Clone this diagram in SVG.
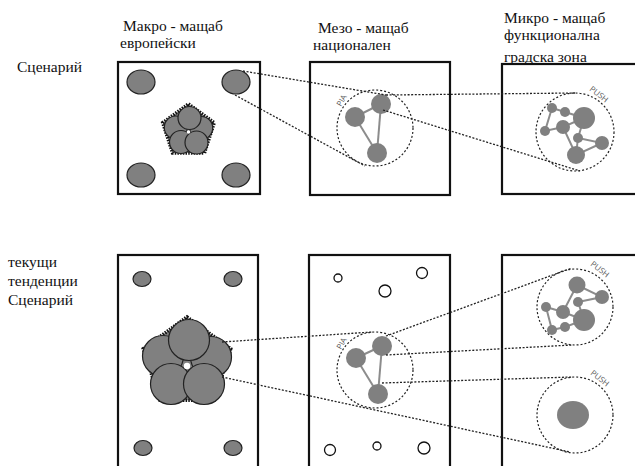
<svg xmlns="http://www.w3.org/2000/svg" width="635" height="466" viewBox="0 0 635 466">
<style>
.box{fill:none;stroke:#111;stroke-width:2.2}
.big{fill:#808080;stroke:#222;stroke-width:1.2}
.pent{fill:#808080;stroke:#111;stroke-width:3.6;stroke-dasharray:1.5 1.2}
.n{fill:#808080}
.e{stroke:#8c8c8c;stroke-width:2;fill:none}
.zone{fill:none;stroke:#222;stroke-width:1.2;stroke-dasharray:2 2}
.lk{fill:none;stroke:#222;stroke-width:1.3;stroke-dasharray:2 1.6}
.open{fill:#fff;stroke:#111;stroke-width:1.3}
</style>
<rect width="635" height="466" fill="#fff"/>

<g id="labels" fill="#111" font-family="Liberation Serif, serif" font-size="15.5">
<text x="123" y="31">Макро - мащаб</text>
<text x="120" y="48">европейски</text>
<text x="318" y="33">Мезо - мащаб</text>
<text x="313" y="50">национален</text>
<text x="504" y="23">Микро - мащаб</text>
<text x="504" y="40">функционална</text>
<text x="504" y="62">градска зона</text>
<text x="17" y="72">Сценарий</text>
<text x="8" y="267">текущи</text>
<text x="8" y="286">тенденции</text>
<text x="8" y="305">Сценарий</text>
</g>

<g id="macro-top">
<rect class="box" x="118" y="62" width="142" height="132"/>
<ellipse class="big" cx="141" cy="82" rx="14" ry="12"/>
<ellipse class="big" cx="236" cy="82" rx="14" ry="12"/>
<ellipse class="big" cx="141" cy="175" rx="14" ry="12"/>
<ellipse class="big" cx="236" cy="175" rx="14" ry="12"/>
<polygon class="pent" points="188.5,104 214.2,122.7 204.4,153 172.6,153 162.8,122.7"/>
<g class="big" stroke-width="1">
<circle cx="175.8" cy="127.5" r="11.5"/>
<circle cx="181" cy="142" r="11.5"/>
<circle cx="201.2" cy="128" r="11.5"/>
<circle cx="189.5" cy="118" r="11.5"/>
<circle cx="196.5" cy="142.5" r="11.5"/>
</g>
<circle cx="188.5" cy="132" r="1.8" fill="#fff"/>
</g>

<g id="meso-top">
<rect class="box" x="310" y="62" width="140" height="133"/>
<circle class="zone" cx="375" cy="128" r="38"/>
<line class="e" x1="355" y1="117" x2="381" y2="104"/>
<line class="e" x1="355" y1="117" x2="377" y2="153"/>
<line class="e" x1="381" y1="104" x2="377" y2="153"/>
<circle class="n" cx="355" cy="117" r="10"/>
<circle class="n" cx="381" cy="104" r="10"/>
<circle class="n" cx="377" cy="153" r="10"/>
<text font-family="Open Sans, sans-serif" font-size="8" fill="#555" transform="translate(341,107) rotate(-60)">PIA</text>
</g>

<g id="micro-top">
<rect class="box" x="502" y="64" width="140" height="130"/>
<circle class="zone" cx="575" cy="132" r="39"/>
<path class="e" d="M552,108 L545,131 L563,127 L584,118 L565,112 L552,108 M563,127 L576,155 L602,143 L578,138 L584,118 M578,138 L576,155"/>
<circle class="n" cx="552" cy="108" r="5"/>
<circle class="n" cx="565" cy="112" r="5"/>
<circle class="n" cx="584" cy="118" r="11"/>
<circle class="n" cx="563" cy="127" r="7"/>
<circle class="n" cx="545" cy="131" r="5"/>
<circle class="n" cx="578" cy="138" r="5"/>
<circle class="n" cx="602" cy="143" r="7"/>
<circle class="n" cx="576" cy="155" r="9"/>
<text font-family="Open Sans, sans-serif" font-size="8" fill="#555" transform="translate(589,90) rotate(38)">PUSH</text>
</g>

<g id="macro-bottom">
<rect class="box" x="118" y="255" width="140" height="230"/>
<ellipse class="big" cx="142" cy="279" rx="9" ry="7.5"/>
<ellipse class="big" cx="233" cy="279" rx="9" ry="7.5"/>
<ellipse class="big" cx="143" cy="448" rx="9" ry="7.5"/>
<ellipse class="big" cx="233" cy="448" rx="9" ry="7.5"/>
<polygon class="pent" points="187,317 230.7,348.8 214,400.2 160,400.2 143.3,348.8"/>
<g class="big" stroke-width="1.3">
<circle cx="163" cy="356" r="20.5"/>
<circle cx="171" cy="384" r="20.5"/>
<circle cx="211" cy="357" r="20.5"/>
<circle cx="189" cy="340" r="20.5"/>
<circle cx="204" cy="384" r="20.5"/>
</g>
<circle cx="187" cy="366" r="3.2" fill="#fff"/>
</g>

<g id="meso-bottom">
<rect class="box" x="309" y="255" width="141" height="230"/>
<circle class="open" cx="338" cy="278" r="4"/>
<circle class="open" cx="422" cy="273" r="5.5"/>
<circle class="open" cx="385" cy="291" r="6"/>
<circle class="open" cx="330" cy="450" r="5.5"/>
<circle class="open" cx="377" cy="446" r="4"/>
<circle class="open" cx="424" cy="448" r="6"/>
<circle class="zone" cx="375" cy="370" r="38"/>
<line class="e" x1="356" y1="358" x2="382" y2="346"/>
<line class="e" x1="356" y1="358" x2="378" y2="394"/>
<line class="e" x1="382" y1="346" x2="378" y2="394"/>
<circle class="n" cx="356" cy="358" r="10"/>
<circle class="n" cx="382" cy="346" r="10"/>
<circle class="n" cx="378" cy="394" r="10"/>
<text font-family="Open Sans, sans-serif" font-size="8" fill="#555" transform="translate(341,350) rotate(-60)">PIA</text>
</g>

<g id="micro-bottom">
<rect class="box" x="502" y="255" width="140" height="230"/>
<circle class="zone" cx="575" cy="307" r="38"/>
<path class="e" d="M577,285 L602,297 L578,302 L584,320 L565,327 L552,330 L546,307 L563,312 L584,320 M577,285 L563,312"/>
<circle class="n" cx="577" cy="285" r="8.5"/>
<circle class="n" cx="602" cy="297" r="7"/>
<circle class="n" cx="578" cy="302" r="5"/>
<circle class="n" cx="546" cy="307" r="5"/>
<circle class="n" cx="563" cy="312" r="7"/>
<circle class="n" cx="584" cy="320" r="11"/>
<circle class="n" cx="552" cy="330" r="5"/>
<circle class="n" cx="565" cy="327" r="5"/>
<text font-family="Open Sans, sans-serif" font-size="8" fill="#555" transform="translate(590,265) rotate(38)">PUSH</text>
<circle class="zone" cx="575" cy="415" r="38"/>
<ellipse class="n" cx="573" cy="415" rx="16" ry="14"/>
<text font-family="Open Sans, sans-serif" font-size="8" fill="#555" transform="translate(590,374) rotate(38)">PUSH</text>
</g>

<g id="connectors">
<line class="lk" x1="243" y1="71" x2="386" y2="95"/>
<line class="lk" x1="235" y1="95" x2="365" y2="166"/>
<line class="lk" x1="386" y1="95" x2="575" y2="93"/>
<line class="lk" x1="383" y1="110" x2="580" y2="171"/>
<line class="lk" x1="222" y1="342" x2="372" y2="332"/>
<line class="lk" x1="386" y1="336" x2="572" y2="268"/>
<line class="lk" x1="386" y1="355" x2="572" y2="345"/>
<line class="lk" x1="382" y1="383" x2="572" y2="377"/>
<line class="lk" x1="222" y1="377" x2="570" y2="452"/>
</g>
</svg>
